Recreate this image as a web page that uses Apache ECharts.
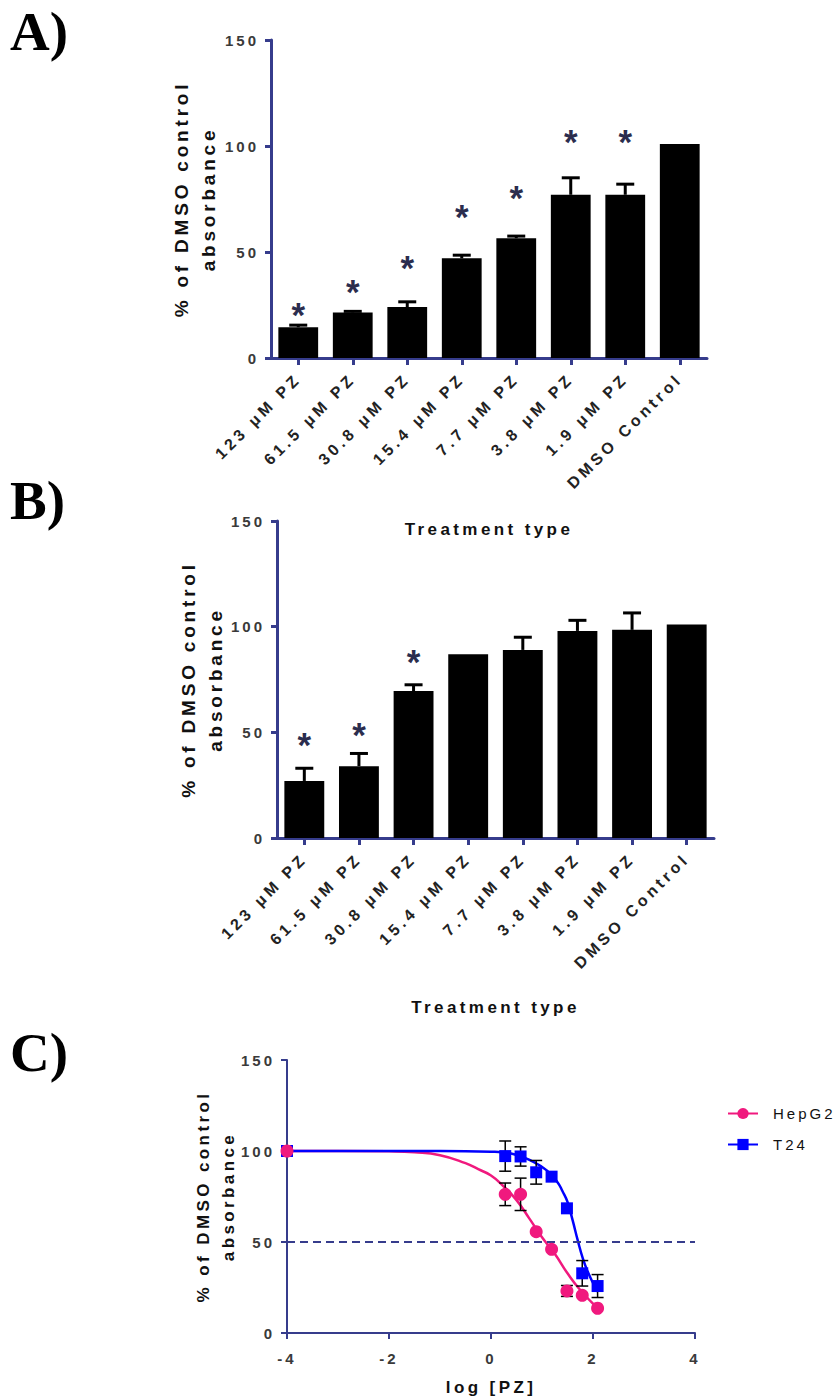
<!DOCTYPE html>
<html><head><meta charset="utf-8">
<script src="https://cdn.jsdelivr.net/npm/echarts@6/dist/echarts.min.js"></script>
<style>
html,body{margin:0;padding:0;background:#fff;}
#c{width:837px;height:1399px;}
#c text{letter-spacing:0.2em;}
</style></head><body><div id="c"></div>
<script>
// ---------- data ----------
const categories = ['123 μM PZ','61.5 μM PZ','30.8 μM PZ','15.4 μM PZ','7.7 μM PZ','3.8 μM PZ','1.9 μM PZ','DMSO Control'];
const valuesA = [14.5, 21.5, 24, 47, 56.5, 77, 77, 101];
const errorsA = [1, 0.5, 2.5, 1.5, 1, 8, 5, 0];
const starsA  = [24.3, 35.3, 46.3, 70.7, 79.6, 106, 106, null];
const valuesB = [27, 34, 69.5, 87, 89, 98, 98.5, 101];
const errorsB = [6, 6, 3, 0, 6, 5, 8, 0];
const starsB  = [48, 52.6, 87.2, null, null, null, null, null];

const logDose  = [-4, 0.279, 0.580, 0.886, 1.188, 1.489, 1.789, 2.090];
const hepG2    = [100, 76.2, 76.2, 55.7, 46, 23.1, 20.7, 13.6];
const hepG2Err = [0, 6.2, 8.9, 0, 0, 3, 0, 0];
const t24      = [100, 97.2, 97, 88.3, 85.9, 68.5, 32.8, 25.8];
const t24Err   = [0, 8.3, 5.3, 6.5, 0, 0, 7, 6.3];

const hepCurveX = [-4, -3, -2, -1.5, -1, -0.5, -0.25, 0, 0.25, 0.5, 0.75, 1, 1.25, 1.5, 1.75, 2.09];
const hepCurveY = [100, 100, 99.8, 99.3, 97.7, 93.3, 90, 86.5, 80.5, 73, 63, 52.6, 43.5, 32.8, 23.6, 13.6];
const t24CurveX = [-4, -2, -1, 0, 0.45, 0.8, 1.1, 1.3, 1.4, 1.5, 1.6, 1.7, 1.8, 1.9, 2.0, 2.1];
const t24CurveY = [100, 100, 100, 99.6, 98.2, 94.5, 89.2, 83, 78, 72, 62, 51, 41, 33.5, 27.5, 22.5];

const yTicks = [0, 50, 100, 150];
const xTicksC = [-4, -2, 0, 2, 4];

// ---------- style ----------
const NAVY = '#363c8c';
const PINK = '#f0197e';
const BLUE = '#0000ff';
const STAR = '#2b2d4e';
const FONT = '"Liberation Sans", Arial, sans-serif';

const chart = echarts.init(document.getElementById('c'), null, {renderer: 'svg'});

function catAxis(gi) {
  return {
    gridIndex: gi, type: 'category', data: categories, boundaryGap: true,
    axisLine: {show: true, lineStyle: {color: NAVY, width: 3}},
    axisTick: {show: true, alignWithLabel: true, length: 7, lineStyle: {color: NAVY, width: 3}},
    axisLabel: {interval: 0, rotate: 45, margin: 18, fontSize: 16, fontWeight: 'bold', color: '#222', fontFamily: FONT},
    name: 'Treatment type', nameLocation: 'middle', nameGap: gi === 0 ? 163 : 161,
    nameTextStyle: {fontSize: 17, fontWeight: 'bold', color: '#111', fontFamily: FONT}
  };
}
function valAxisY(gi, w, nameSize, gap) {
  return {
    gridIndex: gi, type: 'value', min: yTicks[0], max: yTicks[yTicks.length - 1], interval: yTicks[1] - yTicks[0],
    axisLine: {show: true, onZero: false, lineStyle: {color: NAVY, width: w}},
    axisTick: {show: true, length: 6, lineStyle: {color: NAVY, width: w}},
    splitLine: {show: false},
    axisLabel: {fontSize: 15, fontWeight: 'bold', color: '#3a3a3a', margin: 12, fontFamily: FONT},
    name: '% of DMSO control\nabsorbance', nameLocation: 'middle', nameRotate: 90, nameGap: gap,
    nameTextStyle: {fontSize: nameSize, fontWeight: 'bold', color: '#111', lineHeight: nameSize + 8, fontFamily: FONT}
  };
}

function barErr(params, api) {
  const x = api.value(0), v = api.value(1), e = api.value(2);
  const p0 = api.coord([x, v]), p1 = api.coord([x, v + e]);
  const h = 9;
  return {type: 'group', children: [
    {type: 'line', shape: {x1: p0[0], y1: p0[1], x2: p1[0], y2: p1[1]}, style: {stroke: '#000', lineWidth: 3}},
    {type: 'line', shape: {x1: p1[0] - h, y1: p1[1], x2: p1[0] + h, y2: p1[1]}, style: {stroke: '#000', lineWidth: 3}}
  ]};
}
function starItem(params, api) {
  const p = api.coord([api.value(0), api.value(1)]);
  return {type: 'text', x: p[0], y: p[1] + 8, style: {
    text: '*', fill: STAR, font: 'bold 35px "Liberation Sans", Arial, sans-serif',
    textAlign: 'center', textVerticalAlign: 'middle', align: 'center', verticalAlign: 'middle'}};
}
function ptErr(params, api) {
  const x = api.value(0), v = api.value(1), e = api.value(2);
  const t = api.coord([x, v + e]), b = api.coord([x, v - e]);
  const h = 6;
  const s = {stroke: '#000', lineWidth: 1.5};
  return {type: 'group', children: [
    {type: 'line', shape: {x1: t[0], y1: t[1], x2: b[0], y2: b[1]}, style: s},
    {type: 'line', shape: {x1: t[0] - h, y1: t[1], x2: t[0] + h, y2: t[1]}, style: s},
    {type: 'line', shape: {x1: b[0] - h, y1: b[1], x2: b[0] + h, y2: b[1]}, style: s}
  ]};
}

const errDataA = categories.map((c, i) => [i, valuesA[i], errorsA[i]]).filter(d => d[2] > 0);
const errDataB = categories.map((c, i) => [i, valuesB[i], errorsB[i]]).filter(d => d[2] > 0);
const starDataA = starsA.map((s, i) => [i, s]).filter(d => d[1] != null);
const starDataB = starsB.map((s, i) => [i, s]).filter(d => d[1] != null);
const hepPts = logDose.map((x, i) => [x, hepG2[i]]);
const t24Pts = logDose.map((x, i) => [x, t24[i]]);
const hepErrD = logDose.map((x, i) => [x, hepG2[i], hepG2Err[i]]).filter(d => d[2] > 0);
const t24ErrD = logDose.map((x, i) => [x, t24[i], t24Err[i]]).filter(d => d[2] > 0);
const hepCurve = hepCurveX.map((x, i) => [x, hepCurveY[i]]);
const t24Curve = t24CurveX.map((x, i) => [x, t24CurveY[i]]);

const panelFont = 'bold 55px "Liberation Serif", "Times New Roman", serif';
const option = {
  animation: false,
  backgroundColor: '#fff',
  textStyle: {fontFamily: FONT},
  grid: [
    {left: 271, top: 40, width: 436, height: 318, outerBoundsMode: 'none'},
    {left: 277, top: 521, width: 437, height: 317, outerBoundsMode: 'none'},
    {left: 287, top: 1060, width: 408, height: 273, outerBoundsMode: 'none'}
  ],
  xAxis: [
    catAxis(0), catAxis(1),
    {gridIndex: 2, type: 'value', min: xTicksC[0], max: xTicksC[xTicksC.length - 1], interval: xTicksC[1] - xTicksC[0],
     axisLine: {show: true, onZero: false, lineStyle: {color: NAVY, width: 2}},
     axisTick: {show: true, length: 6, lineStyle: {color: NAVY, width: 2}},
     splitLine: {show: false},
     axisLabel: {fontSize: 15, fontWeight: 'bold', color: '#3a3a3a', margin: 18, fontFamily: FONT},
     name: 'log [PZ]', nameLocation: 'middle', nameGap: 46,
     nameTextStyle: {fontSize: 17, fontWeight: 'bold', color: '#111', fontFamily: FONT}}
  ],
  yAxis: [valAxisY(0, 3, 19, 49), valAxisY(1, 3, 19, 48), valAxisY(2, 2, 17, 46)],
  legend: {
    data: ['HepG2', 'T24'], orient: 'vertical', left: 722, top: 1101,
    itemWidth: 30, itemHeight: 14, itemGap: 16, selectedMode: false,
    textStyle: {fontSize: 15, color: '#111', fontFamily: FONT, padding: [0, 0, 0, 10]}
  },
  graphic: [
    {type: 'text', x: 10, y: 31, style: {text: 'A)', fill: '#000', font: panelFont, align: 'left', verticalAlign: 'middle', textAlign: 'left', textVerticalAlign: 'middle'}},
    {type: 'text', x: 10, y: 500, style: {text: 'B)', fill: '#000', font: panelFont, align: 'left', verticalAlign: 'middle', textAlign: 'left', textVerticalAlign: 'middle'}},
    {type: 'text', x: 10, y: 1052, style: {text: 'C)', fill: '#000', font: panelFont, align: 'left', verticalAlign: 'middle', textAlign: 'left', textVerticalAlign: 'middle'}}
  ],
  series: [
    {type: 'bar', xAxisIndex: 0, yAxisIndex: 0, data: valuesA, barWidth: '73%', itemStyle: {color: '#000'}, silent: true},
    {type: 'custom', xAxisIndex: 0, yAxisIndex: 0, data: errDataA, renderItem: barErr, silent: true},
    {type: 'custom', xAxisIndex: 0, yAxisIndex: 0, data: starDataA, renderItem: starItem, silent: true},
    {type: 'bar', xAxisIndex: 1, yAxisIndex: 1, data: valuesB, barWidth: '73%', itemStyle: {color: '#000'}, silent: true},
    {type: 'custom', xAxisIndex: 1, yAxisIndex: 1, data: errDataB, renderItem: barErr, silent: true},
    {type: 'custom', xAxisIndex: 1, yAxisIndex: 1, data: starDataB, renderItem: starItem, silent: true},

    {name: 'HepG2', type: 'line', xAxisIndex: 2, yAxisIndex: 2, data: hepCurve, smooth: true,
     symbol: 'circle', symbolSize: 12, showSymbol: false, color: PINK,
     lineStyle: {color: PINK, width: 2.5}, itemStyle: {color: PINK}, silent: true, z: 2},
    {name: 'T24', type: 'line', xAxisIndex: 2, yAxisIndex: 2, data: t24Curve, smooth: true,
     symbol: 'rect', symbolSize: 12, showSymbol: false, color: BLUE,
     lineStyle: {color: BLUE, width: 2.5}, itemStyle: {color: BLUE}, silent: true, z: 2,
     markLine: {silent: true, symbol: ['none', 'none'], label: {show: false},
       lineStyle: {type: [8, 5], color: NAVY, width: 2}, data: [{yAxis: 50}]}},
    {type: 'custom', xAxisIndex: 2, yAxisIndex: 2, data: t24ErrD, renderItem: ptErr, silent: true, z: 3},
    {type: 'custom', xAxisIndex: 2, yAxisIndex: 2, data: hepErrD, renderItem: ptErr, silent: true, z: 3},
    {name: 'T24', type: 'scatter', xAxisIndex: 2, yAxisIndex: 2, data: t24Pts, symbol: 'rect', symbolSize: 12,
     itemStyle: {color: BLUE, opacity: 1}, silent: true, z: 4},
    {name: 'HepG2', type: 'scatter', xAxisIndex: 2, yAxisIndex: 2, data: hepPts, symbol: 'circle', symbolSize: 13,
     itemStyle: {color: PINK, opacity: 1}, silent: true, z: 5}
  ]
};
chart.setOption(option);

function fixSpacing() {
  document.querySelectorAll('#c text').forEach(t => {
    const s = t.textContent.trim();
    if (s === '*' || s === 'A)' || s === 'B)' || s === 'C)') t.style.letterSpacing = '0';
    else if (categories.indexOf(s) >= 0) t.style.letterSpacing = '0.24em';
  });
}
fixSpacing();
chart.on('finished', fixSpacing);
</script></body></html>
